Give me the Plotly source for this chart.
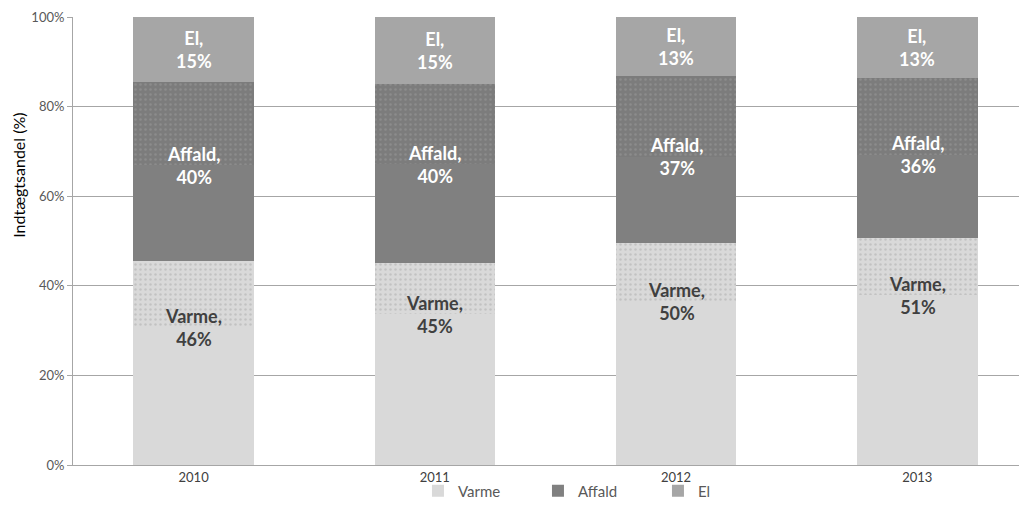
import plotly.graph_objects as go

years = ["2010", "2011", "2012", "2013"]
# segment heights (% of revenue), solid and dotted parts
varme_solid = [30.7, 33.7, 36.4, 37.9]
varme_dotted = [14.9, 11.4, 13.2, 12.8]
affald_solid = [21.3, 22.0, 19.2, 18.5]
affald_dotted = [18.6, 17.9, 18.1, 17.2]
el_share = [14.5, 15.0, 13.1, 13.6]
# label percentages
varme_pct = [46, 45, 50, 51]
affald_pct = [40, 40, 37, 36]
el_pct = [15, 15, 13, 13]

FONT = "Lato"
fig = go.Figure()

def bar(y, name, color, show, pattern=None):
    marker = dict(color=color, line=dict(width=0))
    if pattern:
        marker["pattern"] = pattern
    fig.add_trace(go.Bar(x=years, y=y, name=name, marker=marker,
                         showlegend=show, hoverinfo="skip",
                         legendgroup=name))

bar(varme_solid, "Varme", "#d9d9d9", True)
bar(varme_dotted, "Varme", "#d9d9d9", False,
    dict(shape=".", bgcolor="#d9d9d9", fgcolor="#acacac", size=5, solidity=0.2))
bar(affald_solid, "Affald", "#808080", True)
bar(affald_dotted, "Affald", "#7c7c7c", False,
    dict(shape=".", bgcolor="#7c7c7c", fgcolor="#9c9c9c", size=5, solidity=0.2))
bar(el_share, "El", "#a6a6a6", True)

ann = []
for i, yr in enumerate(years):
    v_top = varme_solid[i]
    a_pos = varme_solid[i] + varme_dotted[i] + affald_solid[i]
    el_base = a_pos + affald_dotted[i]
    el_mid = el_base + el_share[i] / 2
    for yv, txt, col in [(v_top, f"Varme,<br>{varme_pct[i]}%", "#404040"),
                         (a_pos, f"Affald,<br>{affald_pct[i]}%", "#ffffff"),
                         (el_mid, f"El,<br>{el_pct[i]}%", "#ffffff")]:
        ann.append(dict(x=i, y=yv, xref="x", yref="y", text=f"<b>{txt}</b>",
                        showarrow=False,
                        font=dict(family=FONT, size=18, color=col)))

# y-axis title (placed like the original, above the axis middle)
ann.append(dict(x=-0.058, y=0.647, xref="paper", yref="paper",
                text="Indtægtsandel (%)", textangle=-90, showarrow=False,
                xanchor="center", yanchor="middle",
                font=dict(family=FONT, size=16, color="#000000")))

fig.update_layout(
    width=1019, height=514,
    margin=dict(l=65, r=0, t=9, b=57),
    barmode="stack", bargap=0.5,
    plot_bgcolor="white", paper_bgcolor="white",
    font=dict(family=FONT, color="#595959", size=13),
    annotations=ann,
    showlegend=True,
    legend=dict(orientation="h", x=0.3616, xanchor="left", y=-0.058, yanchor="middle",
                traceorder="normal", entrywidth=75, bgcolor="rgba(0,0,0,0)",
                font=dict(family=FONT, size=15, color="#595959")),
    xaxis=dict(type="category", range=[-0.5, 3.455], showline=True,
               linecolor="#a6a6a6", linewidth=1, ticks="", showgrid=False,
               tickfont=dict(size=13, color="#404040")),
    yaxis=dict(range=[0, 100], tickvals=[0, 20, 40, 60, 80, 100],
               ticktext=["0%", "20%", "40%", "60%", "80%", "100%"],
               showgrid=True, gridcolor="#a6a6a6", gridwidth=1,
               showline=True, linecolor="#a6a6a6", ticks="outside", ticklen=5,
               tickcolor="#a6a6a6", zeroline=False,
               tickfont=dict(size=13, color="#595959")),
)

fig.write_html("out.html")
